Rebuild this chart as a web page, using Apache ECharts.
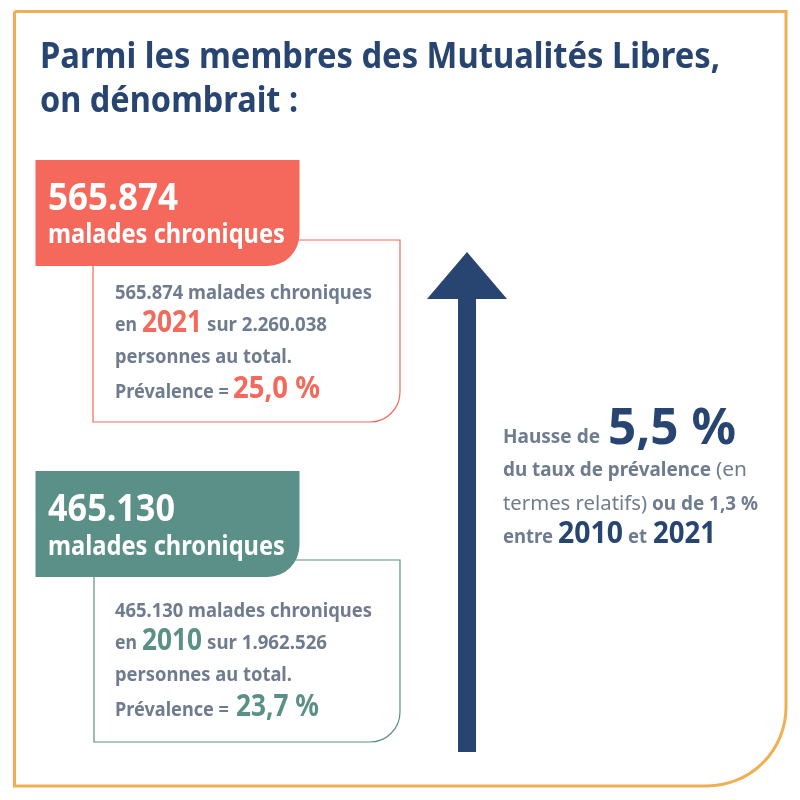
<!DOCTYPE html>
<html>
<head>
<meta charset="utf-8">
<style>
  html, body { margin: 0; padding: 0; background: #fff; }
  #main { width: 800px; height: 800px; }
</style>
<script src="https://cdn.jsdelivr.net/npm/echarts@6/dist/echarts.min.js"></script>
</head>
<body>
<div id="main"></div>
<script>
// values
const years = [2021, 2010];
const patients = [565874, 465130];
const totals = [2260038, 1962526];
const prevalence = [25.0, 23.7];
const relativeRise = 5.5;
const absoluteRise = 1.3;

const navy = "#284571";
const grey = "#6f7c8f";
const coral = "#f4695b";
const teal = "#5a9087";
const gold = "#efb055";
const font = '"Noto Sans", sans-serif';

const dots = n => String(n).replace(/\B(?=(\d{3})+$)/g, ".");
const comma = n => n.toFixed(1).replace(".", ",");

const ctx = document.createElement("canvas").getContext("2d");

// text piece: left edge, baseline, size, colour, width it has to fill
function label(text, x, base, size, fill, w, weight) {
  weight = weight || 700;
  ctx.font = weight + " " + size + "px " + font;
  ctx.textBaseline = "middle";
  let m = ctx.measureText(text);
  let drop = ctx.measureText("H").actualBoundingBoxDescent;
  return {
    type: "text",
    x: x,
    y: base - drop,
    scaleX: w ? w / m.width : 1,
    style: {
      text: text,
      x: 0,
      y: 0,
      fill: fill,
      font: weight + " " + size + "px " + font,
      textAlign: "left",
      textVerticalAlign: "middle"
    }
  };
}

function card(i, boxY, frameX, frameY, bodyY, color) {
  return [
    {
      type: "rect",
      shape: { x: frameX, y: frameY, width: 400 - frameX, height: 182, r: [0, 0, 30, 0] },
      style: { fill: "#fff", stroke: color, lineWidth: 1.2 }
    },
    {
      type: "rect",
      shape: { x: 35.5, y: boxY, width: 264, height: 106, r: [0, 0, 32, 0] },
      style: { fill: color }
    },
    label(dots(patients[i]), 48, boxY + 50, 38, "#fff", i ? 127 : 130),
    label("malades chroniques", 48, boxY + (i ? 84 : 83), 26, "#fff", 237),
    label(dots(patients[i]) + " malades chroniques", 115, bodyY, 20, grey, 257),
    label("en", 115, bodyY + 32, 20, grey, 22),
    label(String(years[i]), 142, bodyY + 33, 31, color, 60),
    label("sur " + dots(totals[i]), 207, bodyY + 32, 20, grey, 120),
    label("personnes au total.", 115, bodyY + 64, 20, grey, 177),
    label("Prévalence =", 115, bodyY + 99, 20, grey, 114),
    label(comma(prevalence[i]) + " %", i ? 236 : 233, bodyY + 99, 31, color, i ? 83 : 87)
  ];
}

let graphics = [
  {
    type: "rect",
    shape: { x: 14.5, y: 11.5, width: 771.5, height: 774.5, r: [0, 0, 79, 0] },
    style: { fill: "#fff", stroke: gold, lineWidth: 3 }
  },
  label("Parmi les membres des Mutualités Libres,", 40, 68, 35, navy, 680),
  label("on dénombrait :", 40, 112, 35, navy, 258),

  // arrow
  {
    type: "polygon",
    shape: { points: [[467, 252], [507, 299], [476, 299], [476, 752], [458, 752], [458, 299], [427, 299]] },
    style: { fill: navy }
  },

  label("Hausse de", 503, 443, 20, grey, 97),
  label(comma(relativeRise) + " %", 608, 444, 50, navy, 128),
  label("du taux de prévalence", 503, 476, 20, grey, 208),
  label("(en", 716, 476, 20, grey, 31, 400),
  label("termes relatifs)", 503, 510, 20, grey, 144, 400),
  label("ou de " + comma(absoluteRise) + " %", 652, 510, 20, grey, 106),
  label("entre", 503, 543, 20, grey, 50),
  label(String(years[1]), 558, 543, 31, navy, 65),
  label("et", 628, 543, 20, grey, 19),
  label(String(years[0]), 653, 543, 31, navy, 63)
];

graphics = graphics.concat(card(0, 160, 93, 240, 299, coral));
graphics = graphics.concat(card(1, 471, 94, 560, 617, teal));

let chart = echarts.init(document.getElementById("main"), null, { renderer: "canvas" });
chart.setOption({
  animation: false,
  backgroundColor: "#fff",
  graphic: { elements: graphics }
});
</script>
</body>
</html>
